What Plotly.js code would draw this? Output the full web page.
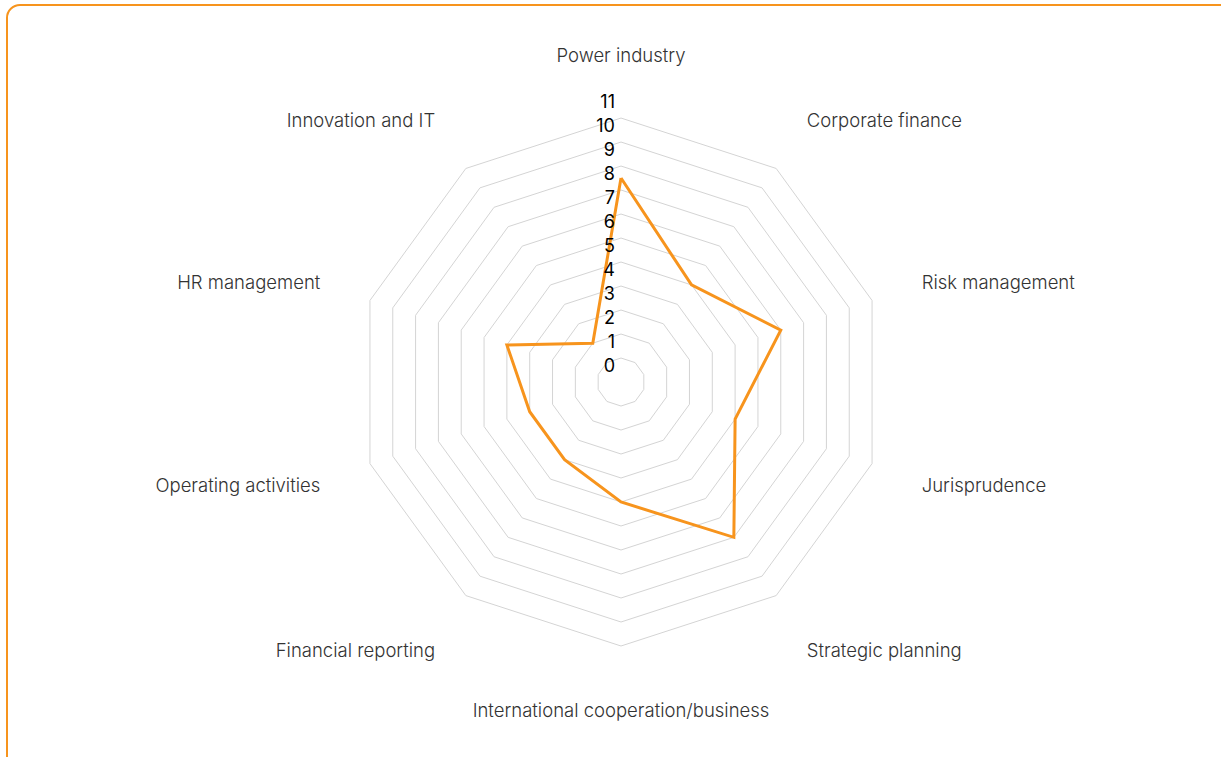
<!DOCTYPE html>
<html>
<head>
<meta charset="utf-8">
<script src="https://cdn.plot.ly/plotly-3.0.1.min.js"></script>
<style>
  html, body { margin: 0; padding: 0; background: #fff; overflow: hidden; }
  #frame {
    position: absolute; left: 6px; top: 4px;
    width: 1260px; height: 800px;
    border: 2px solid #f7941d; border-radius: 14px;
    box-sizing: border-box;
  }
  #chart { position: absolute; left: 0; top: 0; width: 1221px; height: 757px; }
</style>
</head>
<body>
<div id="frame"></div>
<div id="chart"></div>
<script>
// competence areas, clockwise from the top
const categories = ['Power industry', 'Corporate finance', 'Risk management', 'Jurisprudence',
  'Strategic planning', 'International cooperation/business', 'Financial reporting',
  'Operating activities', 'HR management', 'Innovation and IT'];
const scores = [8.5, 5, 7, 5, 8, 5, 4, 4, 5, 2];
const scaleTicks = [0, 1, 2, 3, 4, 5, 6, 7, 8, 9, 10, 11];

const orange = '#f7941d';
const grid = '#d4d4d4';
const domain = { x: [0.2924, 0.7248], y: [0.1466, 0.8441] };

let lineTrace = {
  type: 'scatterpolar',
  r: scores.concat([scores[0]]),
  theta: categories.concat([categories[0]]),
  mode: 'lines',
  line: { color: orange, width: 3 },
  hoverinfo: 'skip'
};

// scale numbers along the top spoke, a little above each ring.
// they sit on a hidden circular twin of the polar plot: the polygon one drops the centre point
let scaleTrace = {
  type: 'scatterpolar',
  subplot: 'polar2',
  r: scaleTicks,
  theta: scaleTicks.map(_ => categories[0]),
  mode: 'markers+text',
  marker: { size: 8, color: 'rgba(0,0,0,0)' },
  text: scaleTicks.map(String),
  textposition: 'top left',
  textfont: { family: 'Inter, sans-serif', size: 18, color: '#000' },
  cliponaxis: false,
  hoverinfo: 'skip'
};

let hiddenAxis = { visible: false, showgrid: false, showline: false, showticklabels: false, ticks: '' };

let layout = {
  width: 1221,
  height: 757,
  margin: { l: 0, r: 0, t: 0, b: 0 },
  paper_bgcolor: 'rgba(0,0,0,0)',
  showlegend: false,
  font: { family: 'Inter, sans-serif', size: 18.5, color: '#333' },
  polar: {
    domain: domain,
    bgcolor: 'rgba(0,0,0,0)',
    gridshape: 'linear',
    radialaxis: {
      range: [0, 11],
      tickvals: scaleTicks.slice(1),
      showticklabels: false,
      ticks: '',
      showline: false,
      gridcolor: grid,
      gridwidth: 1
    },
    angularaxis: {
      type: 'category',
      categoryarray: categories,
      direction: 'clockwise',
      rotation: 90,
      showgrid: false,
      showline: true,
      linecolor: grid,
      linewidth: 1,
      ticks: 'outside',
      ticklen: 48,
      tickcolor: 'rgba(0,0,0,0)',
      tickfont: { family: 'Inter, sans-serif', size: 18.5, weight: 300, color: '#333' }
    }
  },
  polar2: {
    domain: domain,
    bgcolor: 'rgba(0,0,0,0)',
    radialaxis: Object.assign({ range: [0, 11] }, hiddenAxis),
    angularaxis: Object.assign({
      type: 'category', categoryarray: categories,
      direction: 'clockwise', rotation: 90
    }, hiddenAxis)
  }
};

Plotly.newPlot('chart', [lineTrace, scaleTrace], layout, { displayModeBar: false, staticPlot: true });
</script>
</body>
</html>
